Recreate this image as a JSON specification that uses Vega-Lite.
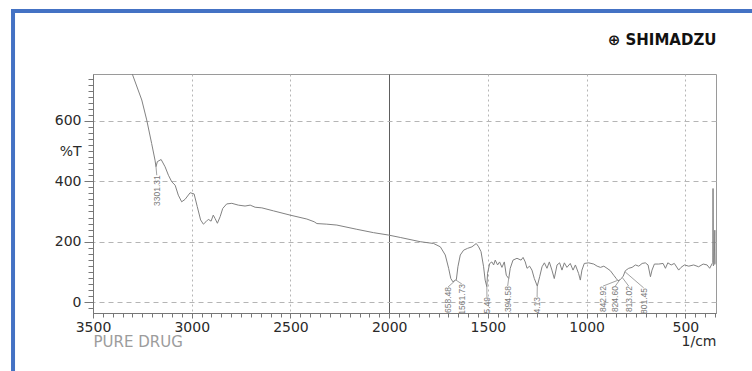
{
  "$schema": "https://vega.github.io/schema/vega-lite/v6.json",
  "width": 623,
  "height": 239,
  "autosize": {"type": "none"},
  "padding": {"left": 93, "top": 74, "right": 36, "bottom": 58},
  "background": "white",
  "config": {
    "view": {"stroke": "#9a9a9a", "strokeWidth": 1},
    "axis": {"labelFont": "DejaVu Sans", "titleFont": "DejaVu Sans"}
  },
  "datasets": {
    "spectrum": [
      {"wn": 3320, "t": 790}, {"wn": 3301, "t": 755}, {"wn": 3253, "t": 669}, {"wn": 3228, "t": 603},
      {"wn": 3203, "t": 525}, {"wn": 3186, "t": 470}, {"wn": 3181, "t": 448}, {"wn": 3174, "t": 465},
      {"wn": 3155, "t": 472}, {"wn": 3135, "t": 448}, {"wn": 3118, "t": 420}, {"wn": 3101, "t": 398},
      {"wn": 3084, "t": 387}, {"wn": 3068, "t": 354}, {"wn": 3051, "t": 332}, {"wn": 3034, "t": 340},
      {"wn": 3008, "t": 362}, {"wn": 2988, "t": 358}, {"wn": 2972, "t": 316}, {"wn": 2955, "t": 272},
      {"wn": 2941, "t": 258}, {"wn": 2928, "t": 266}, {"wn": 2916, "t": 274}, {"wn": 2902, "t": 268},
      {"wn": 2891, "t": 288}, {"wn": 2882, "t": 277}, {"wn": 2870, "t": 261}, {"wn": 2856, "t": 283},
      {"wn": 2843, "t": 310}, {"wn": 2823, "t": 325}, {"wn": 2797, "t": 327}, {"wn": 2764, "t": 321},
      {"wn": 2730, "t": 318}, {"wn": 2704, "t": 321}, {"wn": 2679, "t": 314}, {"wn": 2645, "t": 312},
      {"wn": 2586, "t": 302}, {"wn": 2502, "t": 288}, {"wn": 2417, "t": 275}, {"wn": 2380, "t": 266},
      {"wn": 2366, "t": 260}, {"wn": 2316, "t": 258}, {"wn": 2265, "t": 255}, {"wn": 2164, "t": 241},
      {"wn": 2080, "t": 230}, {"wn": 2004, "t": 222}, {"wn": 1944, "t": 214}, {"wn": 1843, "t": 200},
      {"wn": 1775, "t": 194}, {"wn": 1741, "t": 183}, {"wn": 1716, "t": 156}, {"wn": 1699, "t": 112},
      {"wn": 1688, "t": 78}, {"wn": 1677, "t": 67}, {"wn": 1668, "t": 72}, {"wn": 1660, "t": 74},
      {"wn": 1652, "t": 117}, {"wn": 1640, "t": 156}, {"wn": 1623, "t": 172}, {"wn": 1603, "t": 178},
      {"wn": 1581, "t": 183}, {"wn": 1559, "t": 194}, {"wn": 1547, "t": 183}, {"wn": 1535, "t": 167},
      {"wn": 1522, "t": 117}, {"wn": 1514, "t": 73}, {"wn": 1505.5, "t": 51}, {"wn": 1502, "t": 95},
      {"wn": 1491, "t": 128}, {"wn": 1480, "t": 133}, {"wn": 1471, "t": 123}, {"wn": 1463, "t": 139},
      {"wn": 1451, "t": 123}, {"wn": 1441, "t": 133}, {"wn": 1429, "t": 115}, {"wn": 1417, "t": 133},
      {"wn": 1407, "t": 89}, {"wn": 1394.6, "t": 78}, {"wn": 1387, "t": 112}, {"wn": 1373, "t": 139},
      {"wn": 1353, "t": 145}, {"wn": 1332, "t": 139}, {"wn": 1322, "t": 148}, {"wn": 1311, "t": 133},
      {"wn": 1302, "t": 112}, {"wn": 1289, "t": 119}, {"wn": 1277, "t": 106}, {"wn": 1265, "t": 78},
      {"wn": 1250, "t": 53}, {"wn": 1238, "t": 84}, {"wn": 1226, "t": 117}, {"wn": 1214, "t": 130},
      {"wn": 1201, "t": 112}, {"wn": 1189, "t": 133}, {"wn": 1176, "t": 106}, {"wn": 1164, "t": 78},
      {"wn": 1150, "t": 123}, {"wn": 1137, "t": 130}, {"wn": 1125, "t": 106}, {"wn": 1113, "t": 130},
      {"wn": 1100, "t": 115}, {"wn": 1083, "t": 128}, {"wn": 1069, "t": 106}, {"wn": 1057, "t": 123},
      {"wn": 1041, "t": 95}, {"wn": 1032, "t": 73}, {"wn": 1024, "t": 106}, {"wn": 1012, "t": 128},
      {"wn": 990, "t": 130}, {"wn": 964, "t": 126}, {"wn": 947, "t": 119}, {"wn": 930, "t": 115},
      {"wn": 913, "t": 119}, {"wn": 897, "t": 112}, {"wn": 880, "t": 104}, {"wn": 863, "t": 89},
      {"wn": 850, "t": 78}, {"wn": 843, "t": 72}, {"wn": 836, "t": 71}, {"wn": 826, "t": 78},
      {"wn": 816, "t": 84}, {"wn": 804, "t": 104}, {"wn": 787, "t": 112}, {"wn": 770, "t": 115},
      {"wn": 753, "t": 123}, {"wn": 736, "t": 119}, {"wn": 719, "t": 128}, {"wn": 703, "t": 130},
      {"wn": 689, "t": 123}, {"wn": 677, "t": 84}, {"wn": 669, "t": 106}, {"wn": 657, "t": 126},
      {"wn": 635, "t": 126}, {"wn": 613, "t": 128}, {"wn": 601, "t": 112}, {"wn": 589, "t": 130},
      {"wn": 572, "t": 123}, {"wn": 556, "t": 128}, {"wn": 534, "t": 106}, {"wn": 522, "t": 115},
      {"wn": 505, "t": 123}, {"wn": 483, "t": 119}, {"wn": 458, "t": 123}, {"wn": 433, "t": 117},
      {"wn": 410, "t": 126}, {"wn": 390, "t": 123}, {"wn": 377, "t": 112}, {"wn": 364, "t": 128},
      {"wn": 361, "t": 130}, {"wn": 360, "t": 376}, {"wn": 358.5, "t": 120}, {"wn": 354, "t": 126},
      {"wn": 351, "t": 238}, {"wn": 349.5, "t": 128}, {"wn": 346, "t": 125}
    ],
    "peaks": [
      {"label": "3301.31", "at": 3177, "top": 420, "lx": 3181, "ly": 448},
      {"label": "1658.48", "at": 1702, "top": 50, "lx": 1668, "ly": 70},
      {"label": "1561.73", "at": 1632, "top": 60, "lx": 1662, "ly": 73},
      {"label": "1505.49", "at": 1505, "top": 17, "lx": 1505.5, "ly": 51},
      {"label": "1394.58", "at": 1400, "top": 53, "lx": 1395, "ly": 78},
      {"label": "1244.13", "at": 1251, "top": 17, "lx": 1250, "ly": 53},
      {"label": "842.92", "at": 917, "top": 53, "lx": 843, "ly": 72},
      {"label": "824.60", "at": 855, "top": 53, "lx": 830, "ly": 76},
      {"label": "813.02", "at": 787, "top": 53, "lx": 818, "ly": 80},
      {"label": "801.45", "at": 711, "top": 47, "lx": 805, "ly": 100}
    ]
  },
  "layer": [
    {
      "data": {"name": "spectrum"},
      "mark": {"type": "line", "color": "#828282", "strokeWidth": 1, "clip": true, "interpolate": "linear"},
      "encoding": {
        "x": {
          "field": "wn",
          "type": "quantitative",
          "scale": {"domain": [345, 3500], "reverse": true, "nice": false, "zero": false},
          "axis": {
            "orient": "bottom",
            "values": [3500, 3000, 2500, 2000, 1500, 1000, 500],
            "format": "d",
            "domainColor": "#777777",
            "tickColor": "#777777",
            "tickSize": 5,
            "labelFontSize": 14,
            "labelColor": "#2a2a2a",
            "labelPadding": 2,
            "labelFlush": false,
            "labelOverlap": false,
            "grid": true,
            "gridColor": {"condition": {"test": "datum.value === 2000", "value": "#5e5e5e"}, "value": "#b5b5b5"},
            "gridDash": {"condition": {"test": "datum.value === 2000", "value": []}, "value": [2, 3]},
            "gridOpacity": {"condition": {"test": "datum.value === 3500", "value": 0}, "value": 1},
            "title": "1/cm",
            "titleAnchor": "start",
            "titleAlign": "right",
            "titleFontSize": 14,
            "titleFontWeight": "normal",
            "titleColor": "#2a2a2a",
            "titlePadding": 0
          }
        },
        "y": {
          "field": "t",
          "type": "quantitative",
          "scale": {"domain": [-36, 755], "nice": false, "zero": false},
          "axis": {
            "orient": "left",
            "values": [0, 200, 400, 500, 600],
            "labelExpr": "datum.value === 500 ? '%T' : datum.label",
            "domainColor": "#777777",
            "tickColor": "#777777",
            "tickSize": 9,
            "tickOpacity": {"condition": {"test": "datum.value === 500", "value": 0}, "value": 1},
            "labelFontSize": 14,
            "labelColor": "#2a2a2a",
            "labelPadding": 3,
            "labelFlush": false,
            "labelOverlap": false,
            "grid": true,
            "gridColor": "#b5b5b5",
            "gridDash": [5, 4],
            "gridOpacity": {"condition": {"test": "datum.value === 500", "value": 0}, "value": 1},
            "title": null
          }
        }
      }
    },
    {
      "data": {"name": "peaks"},
      "mark": {"type": "rule", "color": "#8a8a8a", "strokeWidth": 0.8, "clip": true},
      "encoding": {
        "x": {
          "field": "lx",
          "type": "quantitative",
          "axis": {
            "orient": "bottom",
            "values": [3500, 3450, 3400, 3350, 3300, 3250, 3200, 3150, 3100, 3050, 3000, 2950, 2900, 2850, 2800, 2750, 2700, 2650, 2600, 2550, 2500, 2450, 2400, 2350, 2300, 2250, 2200, 2150, 2100, 2050, 2000, 1950, 1900, 1850, 1800, 1750, 1700, 1650, 1600, 1550, 1500, 1450, 1400, 1350, 1300, 1250, 1200, 1150, 1100, 1050, 1000, 950, 900, 850, 800, 750, 700, 650, 600, 550, 500, 450, 400, 350],
            "domain": false,
            "grid": false,
            "labels": false,
            "tickColor": "#777777",
            "tickSize": 4,
            "title": "PURE DRUG",
            "titleAnchor": "end",
            "titleAlign": "left",
            "titleFontSize": 15,
            "titleFontWeight": "normal",
            "titleColor": "#9c9c9c",
            "titlePadding": 17
          }
        },
        "x2": {"field": "at"},
        "y": {
          "field": "ly",
          "type": "quantitative",
          "axis": {
            "orient": "left",
            "values": [-20, 0, 20, 40, 60, 80, 100, 120, 140, 160, 180, 200, 220, 240, 260, 280, 300, 320, 340, 360, 380, 400, 420, 440, 460, 480, 500, 520, 540, 560, 580, 600, 620, 640, 660, 680, 700, 720, 740],
            "domain": false,
            "grid": false,
            "labels": false,
            "tickColor": "#777777",
            "tickSize": 5,
            "title": null
          }
        },
        "y2": {"field": "top"}
      }
    },
    {
      "data": {"name": "peaks"},
      "mark": {
        "type": "text",
        "angle": 270,
        "align": "right",
        "baseline": "middle",
        "font": "Liberation Sans",
        "fontSize": 8.5,
        "color": "#7a7a7a",
        "clip": true
      },
      "encoding": {
        "x": {
          "field": "at",
          "type": "quantitative",
          "axis": {
            "orient": "top",
            "domain": false,
            "ticks": false,
            "labels": false,
            "grid": false,
            "title": "⊕ SHIMADZU",
            "titleAnchor": "start",
            "titleAlign": "right",
            "titleBaseline": "bottom",
            "titleFont": "DejaVu Sans",
            "titleFontSize": 15,
            "titleFontWeight": "bold",
            "titleColor": "#111111",
            "titlePadding": 27
          }
        },
        "y": {"field": "top", "type": "quantitative", "axis": null},
        "text": {"field": "label"}
      }
    },
    {
      "data": {"values": [{}]},
      "mark": {"type": "rule", "color": "#4472c4", "strokeWidth": 4, "strokeCap": "square", "clip": false},
      "encoding": {
        "x": {"datum": 3905, "type": "quantitative", "axis": null},
        "x2": {"datum": -800},
        "y": {"datum": 963.5, "type": "quantitative", "axis": null}
      }
    },
    {
      "data": {"values": [{}]},
      "mark": {"type": "rule", "color": "#4472c4", "strokeWidth": 4, "strokeCap": "square", "clip": false},
      "encoding": {
        "x": {"datum": 3905, "type": "quantitative", "axis": null},
        "y": {"datum": 963.5, "type": "quantitative", "axis": null},
        "y2": {"datum": -400}
      }
    }
  ],
  "resolve": {"axis": {"x": "independent", "y": "independent"}}
}
